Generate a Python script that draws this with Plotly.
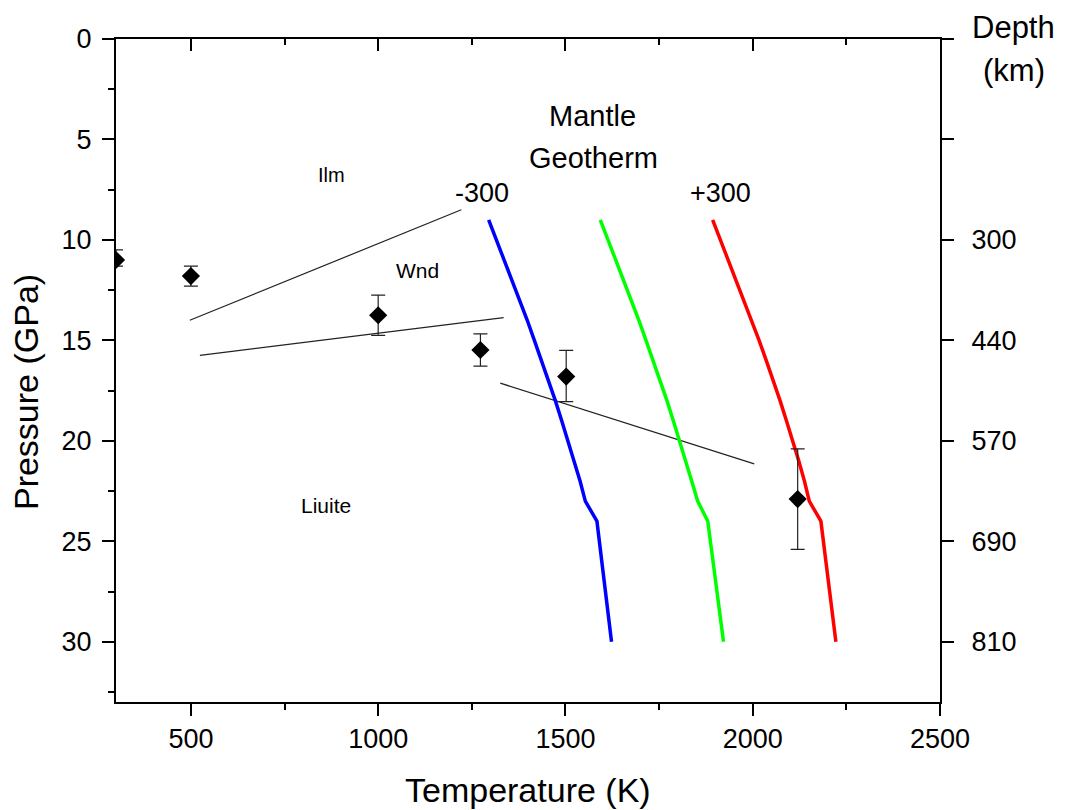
import plotly.graph_objects as go

# ---------------- data ----------------
# experimental points (Temperature K, Pressure GPa, error GPa)
exp_T = [300, 500, 1000, 1273, 1502, 2120]
exp_P = [11.0, 11.8, 13.75, 15.48, 16.8, 22.9]
exp_err_plus = [0.3, 0.5, 1.0, 0.8, 1.25, 2.5]
exp_err_minus = [0.5, 0.5, 1.0, 0.8, 1.3, 2.5]

# phase boundaries
ilm_wnd_T = [497, 1222]
ilm_wnd_P = [14.0, 8.5]
wnd_liu_T = [524, 1335]
wnd_liu_P = [15.75, 13.87]
liu_hi_T = [1326, 2004]
liu_hi_P = [17.13, 21.15]

# mantle geotherms (pressure GPa vs temperature K)
geo_P = [9, 10, 11, 12, 13, 14, 15, 16, 17, 18, 19, 20, 21, 22, 23, 24, 30]
geo_minus_T = [1295, 1316, 1337, 1357, 1378, 1398, 1417, 1436, 1455, 1473,
               1490, 1507, 1523, 1539, 1553, 1584, 1623]
geo_mid_T = [1593, 1614, 1635, 1655, 1676, 1696, 1715, 1734, 1753, 1771,
             1788, 1805, 1821, 1837, 1853, 1880, 1922]
geo_plus_T = [1893, 1914, 1935, 1956, 1977, 1997, 2017, 2036, 2055, 2073,
              2090, 2107, 2123, 2138, 2151, 2182, 2222]

x_range = [300, 2500]
y_range = [33, 0]
left_ticks = [0, 5, 10, 15, 20, 25, 30]
depth_ticktext = ["", "", "300", "440", "570", "690", "810"]

FONT = "Arial, Liberation Sans, sans-serif"

fig = go.Figure()

for T, P in [(ilm_wnd_T, ilm_wnd_P), (wnd_liu_T, wnd_liu_P), (liu_hi_T, liu_hi_P)]:
    fig.add_trace(go.Scatter(x=T, y=P, mode="lines",
                             line=dict(color="#222222", width=1.2),
                             showlegend=False, hoverinfo="skip"))

for T, c in [(geo_minus_T, "#0000FF"), (geo_mid_T, "#00FF00"), (geo_plus_T, "#FF0000")]:
    fig.add_trace(go.Scatter(x=T, y=geo_P, mode="lines",
                             line=dict(color=c, width=3.5),
                             showlegend=False))

fig.add_trace(go.Scatter(
    x=exp_T, y=exp_P, mode="markers",
    marker=dict(symbol="diamond", size=14, color="black"),
    error_y=dict(type="data", array=exp_err_plus, arrayminus=exp_err_minus,
                 color="#222222", thickness=1.2, width=7),
    cliponaxis=True,
    showlegend=False))

# helper trace so that the secondary (top/right) axes are drawn
fig.add_trace(go.Scatter(x=[None], y=[None], xaxis="x2", yaxis="y2",
                         showlegend=False, hoverinfo="skip"))

axis_common = dict(showgrid=False, zeroline=False, showline=True,
                   linecolor="black", linewidth=2, tickcolor="black",
                   tickwidth=2)

fig.update_layout(
    width=1067, height=810,
    margin=dict(l=116, r=127, t=39, b=108),
    paper_bgcolor="white", plot_bgcolor="white",
    font=dict(family=FONT, color="black"),
    xaxis=dict(range=x_range, tickmode="linear", tick0=0, dtick=500,
               ticks="outside", ticklen=12,
               minor=dict(ticks="outside", ticklen=6, tickwidth=2,
                          tickcolor="black", tick0=0, dtick=250),
               tickfont=dict(size=27, family=FONT),
               ticklabelstandoff=0, **axis_common),
    yaxis=dict(range=y_range, tickmode="array", tickvals=left_ticks,
               ticks="outside", ticklen=12,
               minor=dict(ticks="outside", ticklen=6, tickwidth=2,
                          tickcolor="black", tick0=0, dtick=2.5),
               tickfont=dict(size=27, family=FONT),
               ticklabelstandoff=5, **axis_common),
    xaxis2=dict(range=x_range, overlaying="x", side="top", anchor="y2",
                tickmode="linear", tick0=0, dtick=500,
                ticks="inside", ticklen=12, showticklabels=False,
                minor=dict(ticks="inside", ticklen=6, tickwidth=2,
                           tickcolor="black", tick0=0, dtick=250),
                **axis_common),
    yaxis2=dict(range=y_range, overlaying="y", side="right", anchor="x2",
                tickmode="array", tickvals=left_ticks, ticktext=depth_ticktext,
                ticks="outside", ticklen=12,
                tickfont=dict(size=27, family=FONT),
                ticklabelstandoff=12, **axis_common),
)

# axis titles (as annotations for precise placement)
fig.add_annotation(text="Temperature (K)", xref="paper", yref="paper",
                   x=0.5, y=-0.1327, xanchor="center", yanchor="middle",
                   showarrow=False, font=dict(size=34, family=FONT))
fig.add_annotation(text="Pressure (GPa)", xref="paper", yref="paper",
                   x=-0.1098, y=0.4668, xanchor="center", yanchor="middle",
                   textangle=-90, showarrow=False, font=dict(size=34, family=FONT))
fig.add_annotation(text="Depth", xref="paper", yref="paper",
                   x=1.0898, y=1.018, xanchor="center", yanchor="middle",
                   showarrow=False, font=dict(size=31, family=FONT))
fig.add_annotation(text="(km)", xref="paper", yref="paper",
                   x=1.0898, y=0.9532, xanchor="center", yanchor="middle",
                   showarrow=False, font=dict(size=31, family=FONT))

# in-plot labels
labels = [
    ("Mantle", 1572, 3.82, 29),
    ("Geotherm", 1575, 5.91, 29),
    ("-300", 1277, 7.66, 27),
    ("+300", 1913, 7.65, 27),
    ("Ilm", 875, 6.75, 20),
    ("Wnd", 1105, 11.5, 21),
    ("Liuite", 862, 23.22, 21),
]
for txt, xv, yv, fs in labels:
    fig.add_annotation(text=txt, x=xv, y=yv, xref="x", yref="y",
                       xanchor="center", yanchor="middle", showarrow=False,
                       font=dict(size=fs, family=FONT))

fig.write_html("out.html")
